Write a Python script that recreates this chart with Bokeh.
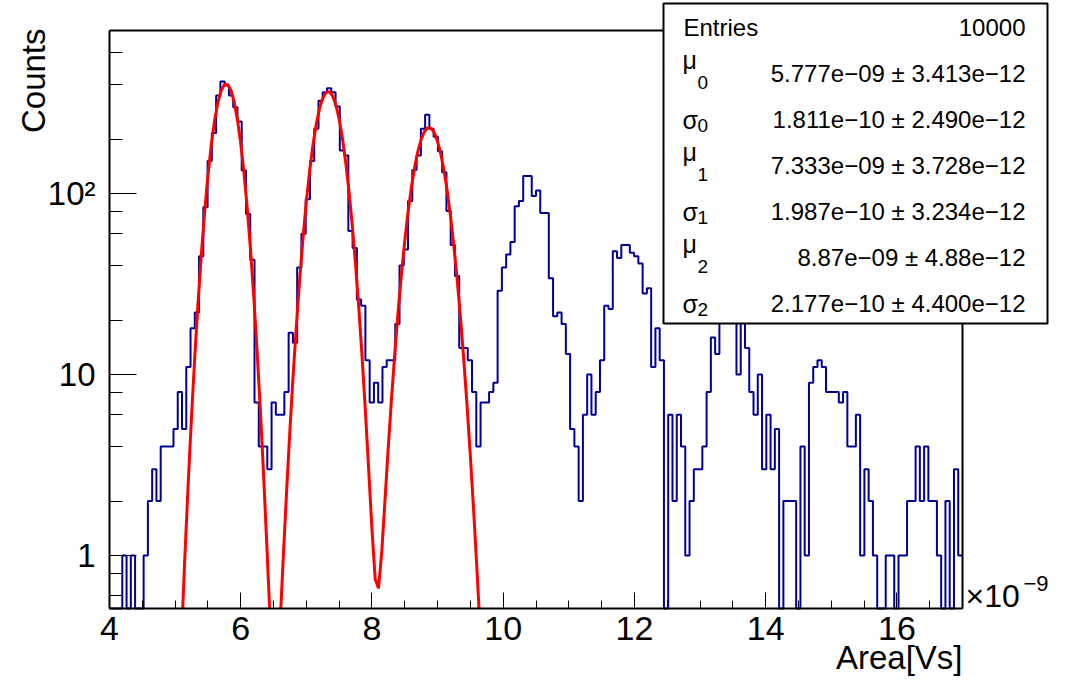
import math
import numpy as np
from bokeh.plotting import figure
from bokeh.models import (Range1d, LinearAxis, LogAxis, SingleIntervalTicker,
                          FixedTicker, Label, BoxAnnotation)
from bokeh.embed import file_html
from bokeh.resources import INLINE

# ---------------- data (x in units of 1e-9 Vs) ----------------
X_MIN, X_MAX = 4.0, 17.0
N_BINS = 200
counts = [
    0, 0, 0, 1, 0, 1, 0, 0, 1, 2,
    3, 2, 4, 4, 4, 5, 8, 5, 11, 18,
    22, 45, 84, 151, 216, 348, 416, 395, 348, 300,
    250, 134, 77, 43, 7, 4, 4, 3, 7, 6,
    6, 8, 17, 15, 39, 60, 93, 151, 228, 326,
    363, 382, 363, 303, 173, 162, 62, 50, 26, 24,
    12, 7, 9, 7, 11, 12, 12, 19, 40, 49,
    91, 135, 162, 228, 272, 228, 206, 171, 131, 80,
    52, 35, 14, 14, 12, 8, 4, 7, 7, 8,
    9, 29, 39, 46, 54, 85, 91, 125, 125, 97,
    104, 78, 78, 34, 21, 22, 19, 13, 5, 4,
    2, 6, 10, 6, 8, 12, 24, 23, 48, 44,
    52, 52, 47, 45, 41, 28, 30, 11, 18, 12,
    0, 6, 2, 6, 4, 1, 2, 3, 3, 4,
    8, 16, 13, 21, 27, 24, 28, 10, 23, 14,
    8, 6, 10, 3, 6, 3, 5, 0, 2, 2,
    2, 0, 4, 1, 9, 11, 12, 11, 8, 8,
    8, 7, 8, 4, 4, 6, 1, 3, 2, 1,
    0, 0, 1, 1, 0, 1, 1, 2, 2, 4,
    2, 4, 2, 2, 1, 0, 2, 0, 3, 1,
]

fit_mu = [5.777, 7.333, 8.87]
fit_sigma = [0.1811, 0.1987, 0.2177]
fit_amp = [404.0, 367.0, 232.0]
fit_lo, fit_hi, fit_npx = 5.0, 10.0, 100

entries_label = "Entries"
entries_value = "10000"
stat_names = ["\u03bc", "\u03c3", "\u03bc", "\u03c3", "\u03bc", "\u03c3"]
stat_subs = ["0", "0", "1", "1", "2", "2"]
stat_values = [
    "5.777e\u221209 \u00b1 3.413e\u221212",
    "1.811e\u221210 \u00b1 2.490e\u221212",
    "7.333e\u221209 \u00b1 3.728e\u221212",
    "1.987e\u221210 \u00b1 3.234e\u221212",
    "8.87e\u221209 \u00b1 4.88e\u221212",
    "2.177e\u221210 \u00b1 4.400e\u221212",
]
x_title = "Area[Vs]"
y_title = "Counts"
y_tick_labels = {1: "1", 10: "10", 100: "10\u00b2"}

# ---------------- layout ----------------
YMIN, YMAX = 0.5095, 795.6
W, H = 1074, 681
FL, FR, FT, FB = 109, 962, 30, 608   # ROOT frame edges in page pixels
FONT = "Liberation Sans"
BLUE = "#000099"
LOGSPAN = math.log10(YMAX / YMIN)
BASELINE_FIX = 0.4   # em; compensates the label baseline offset seen in SVG output

def sx(px):
    return X_MIN + (px - FL) / (FR - FL) * (X_MAX - X_MIN)

def sy(py):
    return 10 ** (math.log10(YMIN) + (FB - py) / (FB - FT) * LOGSPAN)

# the Bokeh frame covers the whole canvas; the ROOT-style frame is drawn with
# fixed-location axes so that the stats box and titles can sit outside it
p = figure(width=W, height=H, x_range=Range1d(sx(0), sx(W)),
           y_range=Range1d(sy(H), sy(0)), y_axis_type="log",
           x_axis_location=None, y_axis_location=None,
           output_backend="svg", toolbar_location=None, min_border=0)
p.grid.visible = False
p.outline_line_color = None
p.background_fill_color = "white"
p.border_fill_color = "white"

# histogram (empty bins drawn down to the frame floor)
width = (X_MAX - X_MIN) / N_BINS
edges = [X_MIN + i * width for i in range(N_BINS + 1)]
draw_vals = [max(c, YMIN) for c in counts]
p.step(x=edges, y=draw_vals + [draw_vals[-1]], mode="after",
       line_color=BLUE, line_width=2)

# fit curve, clipped at the frame floor
fx = np.linspace(fit_lo, fit_hi, fit_npx + 1)
fy = np.zeros_like(fx)
for a, m, s in zip(fit_amp, fit_mu, fit_sigma):
    fy += a * np.exp(-0.5 * ((fx - m) / s) ** 2)
cx, cy = [], []
for i in range(len(fx)):
    x, y = float(fx[i]), float(fy[i])
    if i > 0:
        x0, y0 = float(fx[i - 1]), float(fy[i - 1])
        if (y0 >= YMIN) != (y >= YMIN):
            t = (math.log10(YMIN) - math.log10(y0)) / (math.log10(y) - math.log10(y0))
            cx.append(x0 + t * (x - x0))
            cy.append(YMIN)
            if y < YMIN:
                cx.append(float("nan"))
                cy.append(float("nan"))
    if y >= YMIN:
        cx.append(x)
        cy.append(y)
p.line(cx, cy, line_color="#ff0000", line_width=3)

# axes
xa = LinearAxis(fixed_location=YMIN, bounds=(X_MIN, X_MAX),
                ticker=SingleIntervalTicker(interval=2, num_minor_ticks=4))
ya = LogAxis(fixed_location=X_MIN, bounds=(YMIN, YMAX))
ya.major_label_overrides = y_tick_labels
for ax in (xa, ya):
    ax.axis_line_width = 2
    ax.axis_line_color = "black"
    ax.major_tick_out = 0
    ax.minor_tick_out = 0
    ax.major_tick_line_color = "black"
    ax.minor_tick_line_color = "black"
    ax.major_label_text_font = FONT
    ax.major_label_text_color = "black"
xa.major_tick_in = 16
xa.minor_tick_in = 8
xa.major_label_text_font_size = "34px"
xa.major_label_standoff = 8
ya.major_tick_in = 27
ya.minor_tick_in = 13
ya.major_label_text_font_size = "33px"
ya.major_label_standoff = 14
p.add_layout(xa, "below")
p.add_layout(ya, "left")

top = LinearAxis(fixed_location=YMAX, bounds=(X_MIN, X_MAX),
                 ticker=FixedTicker(ticks=[]), axis_line_width=2,
                 major_label_text_font_size="0px")
right = LogAxis(fixed_location=X_MAX, bounds=(YMIN, YMAX),
                ticker=FixedTicker(ticks=[]), axis_line_width=2,
                major_label_text_font_size="0px")
p.add_layout(top, "above")
p.add_layout(right, "right")

def label(px, py, text, size, align="left", angle=0.0):
    shift = BASELINE_FIX * size
    if angle == 0.0:
        py = py - shift
    else:
        px = px - shift
    p.add_layout(Label(x=sx(px), y=sy(py), text=text, angle=angle,
                       text_align=align, text_baseline="alphabetic",
                       text_font=FONT, text_font_size=f"{size}px",
                       text_color="black"))

# axis titles (ROOT style, at the end of each axis)
label(46, 28, y_title, 33, align="right", angle=math.pi / 2)
label(962, 670, x_title, 33, align="right")
label(965, 608, "\u00d710", 32)
label(1023, 592, "\u22129", 22)

# stats box
p.add_layout(BoxAnnotation(left=sx(663), right=sx(1047), top=sy(3), bottom=sy(323),
                           fill_color="white", fill_alpha=1.0,
                           line_color="black", line_width=2, line_alpha=1.0))
label(683, 37, entries_label, 24)
label(1025, 37, entries_value, 24, align="right")
for i, (nm, sub, val) in enumerate(zip(stat_names, stat_subs, stat_values)):
    base = 83 + 46 * i
    is_mu = nm == "\u03bc"
    label(682, base - 14 if is_mu else base, nm, 25)
    label(697, base + 7 if is_mu else base + 4, sub, 19)
    label(1025, base, val, 24, align="right")

open("out.html", "w").write(file_html(p, INLINE))
